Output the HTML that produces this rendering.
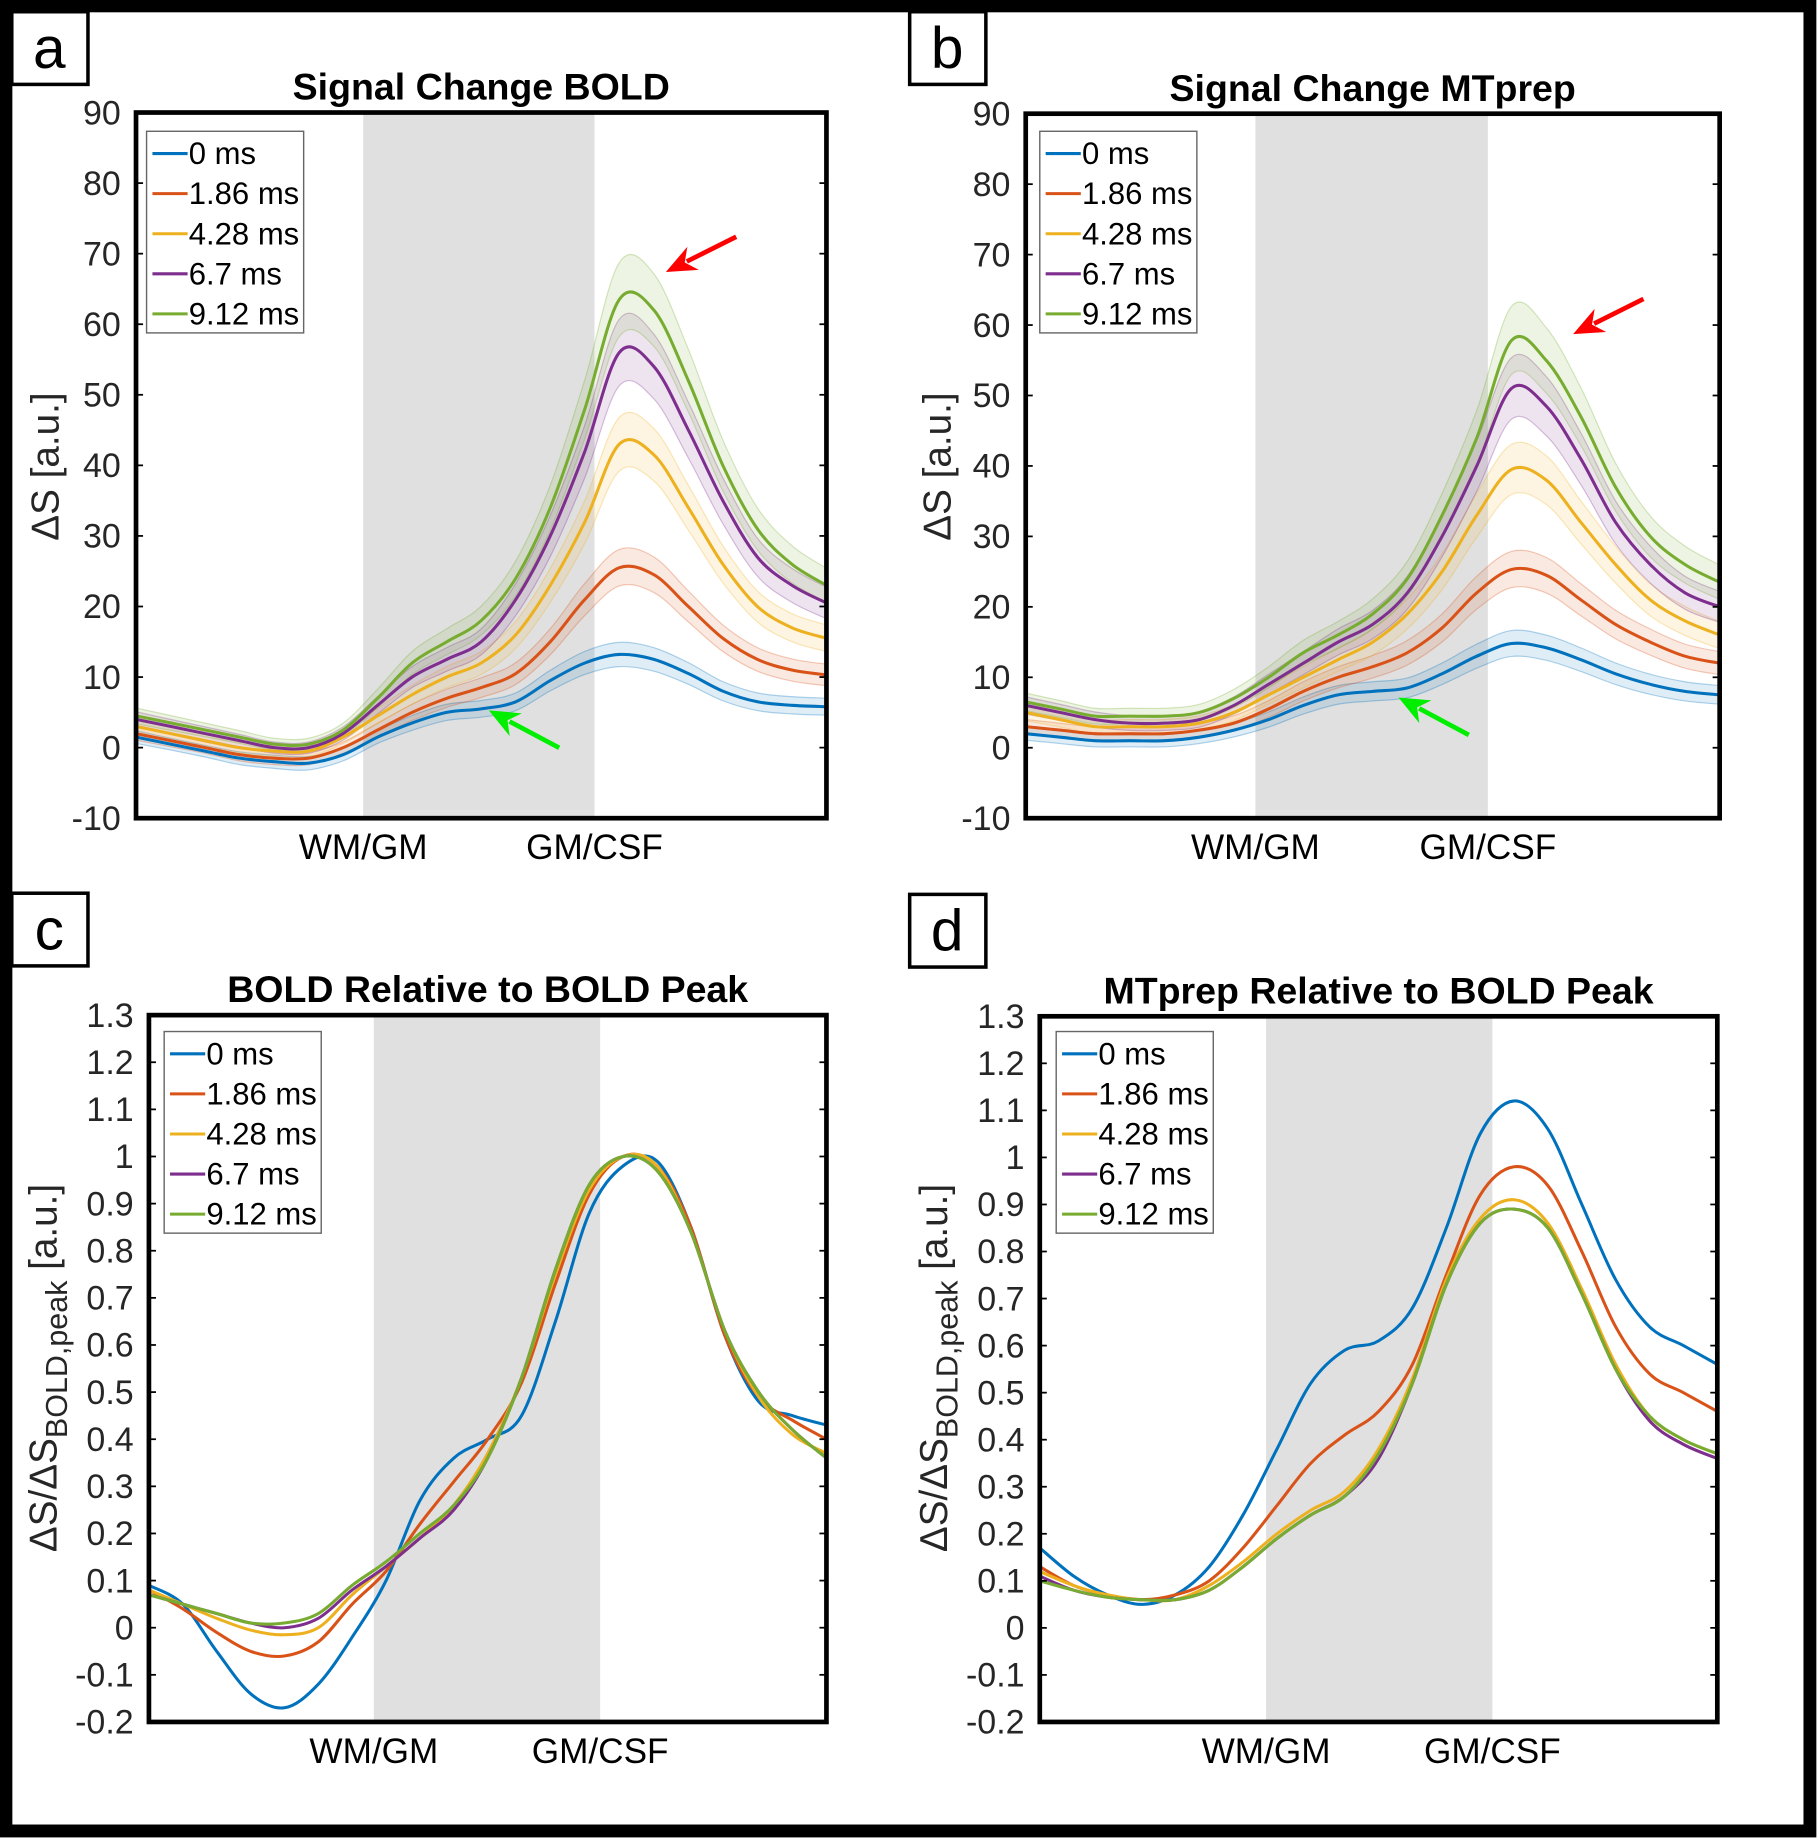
<!DOCTYPE html>
<html><head><meta charset="utf-8"><style>
html,body{margin:0;padding:0;background:#fff;}
svg{display:block;font-family:"Liberation Sans",sans-serif;}
</style></head><body>
<svg id="fig" width="1817" height="1838" viewBox="0 0 1550 1568" xmlns="http://www.w3.org/2000/svg">
<rect x="5" y="5" width="1539" height="1557" fill="#fff" stroke="#000" stroke-width="11"/>
</svg>
<script>
const xs=[0,0.05,0.1,0.15,0.2,0.25,0.3,0.35,0.4,0.45,0.5,0.55,0.6,0.65,0.7,0.75,0.8,0.85,0.9,0.95,1];
const seriesNames=["0 ms","1.86 ms","4.28 ms","6.7 ms","9.12 ms"];
const colors=["#0072BD","#D95319","#EDB120","#7E2F8E","#77AC30"];
const yTicksA=[90,80,70,60,50,40,30,20,10,0,-10];
const yTicksC=[1.3,1.2,1.1,1,0.9,0.8,0.7,0.6,0.5,0.4,0.3,0.2,0.1,0,-0.1,-0.2];
const yTickLabelsC=["1.3","1.2","1.1","1","0.9","0.8","0.7","0.6","0.5","0.4","0.3","0.2","0.1","0","-0.1","-0.2"];
const aBlue=[1.5,0.5,-0.5,-1.5,-2,-2.2,-1,1.5,3.5,5,5.5,6.5,9.5,12,13.2,12.5,10.5,8,6.5,6,5.8];
const aOrange=[2,1,0,-1,-1.5,-1.5,0,2.5,5,7,8.5,10.5,15,21,25.5,24.5,20,15.5,12.5,11,10.3];
const aYellow=[3,2,1,0,-0.5,-0.5,1.5,4.5,7.5,10,12,16,23,32,43,41.5,34,26,20,17,15.5];
const aPurple=[4,3,2,1,0,0,2,6,10,12.5,15,21,30,42,56,54,45,35,27,23,20.5];
const aGreen=[4.5,3.5,2.5,1.5,0.5,0.5,2.5,7,12,15,18,24,34,48,63.5,62,52,40,31,26,23];
const bBlue=[2,1.5,1,1,1,1.5,2.5,4,6,7.5,8,8.5,10.5,13,14.8,14.2,12.5,10.5,9,8,7.5];
const bOrange=[3,2.5,2,2,2,2.5,3.5,5.5,8,10,11.5,13.5,17,22,25.3,24.5,21,17.5,15,13,12];
const bYellow=[5,4,3,3,3,3.5,5,7.5,10,12.5,15,19,25,33,39.5,38,32,26,21,18,16];
const bPurple=[6,5,4,3.5,3.5,4,6,9,12,15,17.5,22,30,40,51,48.5,41,32,26,22,20];
const bGreen=[6.5,5.5,4.5,4.5,4.5,5,7,10,13.5,16,19,24,33,44,57.8,55,47,37,30,26,23.5];
const cBlue=[0.09,0.05,-0.05,-0.14,-0.17,-0.12,-0.02,0.1,0.27,0.36,0.4,0.45,0.65,0.88,0.98,0.99,0.85,0.62,0.48,0.45,0.43];
const cOrange=[0.08,0.04,-0.01,-0.05,-0.06,-0.03,0.05,0.12,0.22,0.31,0.4,0.52,0.73,0.92,1.0,0.98,0.85,0.62,0.49,0.44,0.4];
const cYellow=[0.08,0.05,0.02,-0.005,-0.015,0.0,0.07,0.13,0.19,0.26,0.37,0.53,0.75,0.93,1.0,0.98,0.84,0.63,0.49,0.41,0.37];
const cPurple=[0.07,0.05,0.03,0.01,0.0,0.02,0.08,0.13,0.19,0.25,0.36,0.53,0.76,0.94,1.0,0.97,0.84,0.63,0.5,0.42,0.36];
const cGreen=[0.07,0.05,0.03,0.01,0.01,0.03,0.09,0.14,0.2,0.26,0.36,0.53,0.76,0.94,1.0,0.97,0.84,0.63,0.5,0.42,0.36];
const dBlue=[0.17,0.11,0.07,0.05,0.07,0.13,0.24,0.38,0.52,0.59,0.61,0.68,0.85,1.05,1.12,1.06,0.9,0.74,0.64,0.6,0.56];
const dOrange=[0.13,0.09,0.07,0.06,0.07,0.1,0.17,0.26,0.35,0.41,0.46,0.56,0.75,0.92,0.98,0.94,0.8,0.64,0.54,0.5,0.46];
const dYellow=[0.12,0.09,0.07,0.06,0.06,0.09,0.14,0.2,0.25,0.29,0.38,0.53,0.74,0.87,0.91,0.86,0.72,0.56,0.45,0.4,0.37];
const dPurple=[0.11,0.08,0.065,0.06,0.06,0.08,0.13,0.19,0.24,0.28,0.36,0.52,0.73,0.86,0.89,0.85,0.71,0.55,0.44,0.39,0.36];
const dGreen=[0.1,0.08,0.065,0.06,0.06,0.08,0.13,0.19,0.24,0.28,0.37,0.52,0.73,0.86,0.89,0.85,0.71,0.55,0.45,0.4,0.37];

const NS="http://www.w3.org/2000/svg";
const svg=document.getElementById('fig');
function mk(tag,attrs,parent){const e=document.createElementNS(NS,tag);for(const k in attrs)e.setAttribute(k,attrs[k]);(parent||svg).appendChild(e);return e;}
function smooth(pts){let d="M"+pts[0][0].toFixed(1)+","+pts[0][1].toFixed(1);
 for(let i=0;i<pts.length-1;i++){const p0=pts[Math.max(0,i-1)],p1=pts[i],p2=pts[i+1],p3=pts[Math.min(pts.length-1,i+2)];
  const c1=[p1[0]+(p2[0]-p0[0])/6,p1[1]+(p2[1]-p0[1])/6],c2=[p2[0]-(p3[0]-p1[0])/6,p2[1]-(p3[1]-p1[1])/6];
  d+=" C"+c1[0].toFixed(1)+","+c1[1].toFixed(1)+" "+c2[0].toFixed(1)+","+c2[1].toFixed(1)+" "+p2[0].toFixed(1)+","+p2[1].toFixed(1);}
 return d;}

function panel(o){
 const g=mk('g',{});
 
 
 const X=v=>o.L+v*(o.R-o.L), Y=v=>o.T+(o.ymax-v)/(o.ymax-o.ymin)*(o.B-o.T);
 const band=mk('rect',{x:X(o.g0),y:o.T,width:X(o.g1)-X(o.g0),height:o.B-o.T,fill:'#e0e0e0'},g);
 
 
 const clipId='clip'+o.id;
 const cp=mk('clipPath',{id:clipId},g);mk('rect',{x:o.L,y:o.T,width:o.R-o.L,height:o.B-o.T},cp);
 const lines=mk('g',{'clip-path':'url(#'+clipId+')'},g);
 o.series.forEach((s,i)=>{
  if(o.bands){
   const up=xs.map((x,j)=>[X(x),Y(s[j]+0.8+0.07*Math.abs(s[j]))]);
   const lo=xs.map((x,j)=>[X(x),Y(s[j]-0.8-0.07*Math.abs(s[j]))]).reverse();
   const d=smooth(up)+" L"+smooth(lo).slice(1)+" Z";
   const b=mk('path',{d:d,fill:colors[i],'fill-opacity':0.13,stroke:colors[i],'stroke-opacity':0.3,'stroke-width':1},lines);
   
   
  }
 });
 o.series.forEach((s,i)=>{
  const p=mk('path',{d:smooth(xs.map((x,j)=>[X(x),Y(s[j])])),fill:'none',stroke:colors[i],'stroke-width':2.6},lines);
  
  
 });
 const ax=mk('rect',{x:o.L,y:o.T,width:o.R-o.L,height:o.B-o.T,fill:'none',stroke:'#000','stroke-width':4},g);
 
 
 o.ticks.forEach((t,i)=>{
  mk('line',{x1:o.L,x2:o.L+6,y1:Y(t),y2:Y(t),stroke:'#000','stroke-width':1.5},g);
  mk('line',{x1:o.R-6,x2:o.R,y1:Y(t),y2:Y(t),stroke:'#000','stroke-width':1.5},g);
  const tx=mk('text',{x:o.L-13,y:Y(t)+10,'text-anchor':'end','font-size':29,fill:'#262626'},g);
  tx.textContent=o.tickLabels[i];
  
  
 });
 [['WM/GM',o.g0],['GM/CSF',o.g1]].forEach(([t,v])=>{
  const tx=mk('text',{x:X(v),y:o.B+35,'text-anchor':'middle','font-size':30,fill:'#000'},g);
  tx.textContent=t;
  
  
 });
 const ti=mk('text',{x:(o.L+o.R)/2,y:o.T-11,'text-anchor':'middle','font-size':32,'font-weight':'bold'},g);
 ti.textContent=o.title;
 
 
 const lg=mk('g',{},g);
 
 
 mk('rect',{x:o.lx,y:o.ly,width:134,height:172,fill:'#fff',stroke:'#666','stroke-width':1.2},lg);
 seriesNames.forEach((n,i)=>{
  const yy=o.ly+19+i*34.2;
  mk('line',{x1:o.lx+5,x2:o.lx+35,y1:yy,y2:yy,stroke:colors[i],'stroke-width':2.6},lg);
  const t=mk('text',{x:o.lx+36,y:yy+9,'font-size':26.5,fill:'#000'},lg);
  t.textContent=n;
  
  
 });
 const yl=mk('text',{transform:`translate(${o.ylx},${o.yly}) rotate(-90)`,'text-anchor':'middle','font-size':33,fill:'#262626'},g);
 if(o.rel){yl.innerHTML='ΔS/ΔS<tspan font-size="26" dy="9">BOLD,peak</tspan><tspan dy="-9"> [a.u.]</tspan>';}
 else yl.textContent='ΔS [a.u.]';
 
 
 const lb=mk('g',{},g);
 
 
 mk('rect',{x:o.bx,y:o.by,width:65,height:62,fill:'#fff',stroke:'#000','stroke-width':3},lb);
 const lt=mk('text',{x:o.bx+32,y:o.by+48,'text-anchor':'middle','font-size':50},lb);lt.textContent=o.id;
}
function arrow(x1,y1,x2,y2,col,name){
 const g=mk('g',{});
 
 
 const dx=x2-x1,dy=y2-y1,l=Math.hypot(dx,dy),ux=dx/l,uy=dy/l;
 const bx=x2-ux*26,by=y2-uy*26;
 mk('line',{x1:x1,y1:y1,x2:bx+ux*6,y2:by+uy*6,stroke:col,'stroke-width':4},g);
 mk('polygon',{points:`${x2},${y2} ${bx-uy*11},${by+ux*11} ${bx+ux*8},${by+uy*8} ${bx+uy*11},${by-ux*11}`,fill:col},g);
}
const tA=yTicksA.map(String);
panel({id:'a',L:116,R:705,T:96,B:698,ymin:-10,ymax:90,g0:0.329,g1:0.664,series:[aBlue,aOrange,aYellow,aPurple,aGreen],bands:true,ticks:yTicksA,tickLabels:tA,title:'Signal Change BOLD',lx:125,ly:112,ylx:50,yly:398,bx:10,by:10});
panel({id:'b',L:875,R:1467,T:97,B:698,ymin:-10,ymax:90,g0:0.331,g1:0.666,series:[bBlue,bOrange,bYellow,bPurple,bGreen],bands:true,ticks:yTicksA,tickLabels:tA,title:'Signal Change MTprep',lx:887,ly:112,ylx:811,yly:398,bx:776,by:10});
panel({id:'c',L:127,R:705,T:866,B:1469,ymin:-0.2,ymax:1.3,g0:0.332,g1:0.666,series:[cBlue,cOrange,cYellow,cPurple,cGreen],bands:false,ticks:yTicksC,tickLabels:yTickLabelsC,title:'BOLD Relative to BOLD Peak',lx:140,ly:880,ylx:48,yly:1167,bx:10,by:762,rel:true});
panel({id:'d',L:887,R:1465,T:867,B:1469,ymin:-0.2,ymax:1.3,g0:0.334,g1:0.668,series:[dBlue,dOrange,dYellow,dPurple,dGreen],bands:false,ticks:yTicksC,tickLabels:yTickLabelsC,title:'MTprep Relative to BOLD Peak',lx:901,ly:880,ylx:808,yly:1167,bx:776,by:763,rel:true});
arrow(628,202,568,232,'#ff0000','red-arrow-a');
arrow(477,638,417,606,'#00ee00','green-arrow-a');
arrow(1402,255,1342,285,'#ff0000','red-arrow-b');
arrow(1253,627,1193,595,'#00ee00','green-arrow-b');
</script>
</body></html>
